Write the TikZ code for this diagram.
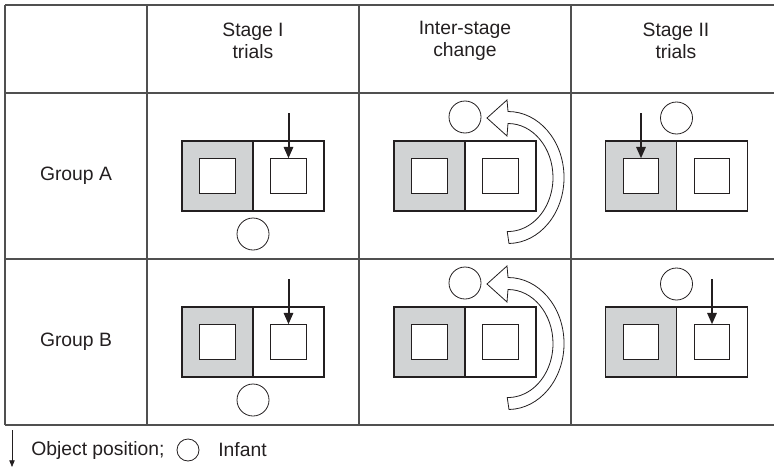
\documentclass[tikz,border=0pt]{standalone}
\usepackage{fontspec}
\setmainfont{Liberation Sans}
\usetikzlibrary{arrows.meta}
\definecolor{ink}{HTML}{231F20}
\definecolor{rulegray}{HTML}{505050}
\definecolor{shade}{HTML}{D1D3D4}
\tikzset{
  gridline/.style={draw=rulegray, line width=1.1pt},
  half/.style={draw=ink, line width=0.8pt, minimum width=53.25pt, minimum height=52.5pt, inner sep=0pt, outer sep=0pt},
  window/.style={draw=ink, fill=white, line width=0.8pt, minimum size=26.6pt, inner sep=0pt, outer sep=0pt},
  infant/.style={circle, draw=ink, line width=0.6pt, minimum size=24pt, inner sep=0pt},
  objarrow/.style={draw=ink, line width=1.5pt, -{Triangle[length=8.5pt,width=7pt]}},
  keyarrow/.style={draw=ink, line width=0.6pt, -{Triangle[length=5pt,width=4pt]}},
  hollow/.style={draw=ink, fill=white, line width=0.6pt, line join=miter},
  txt/.style={font=\fontsize{14.5}{17}\selectfont, text=ink, align=center, inner sep=0pt},
  pics/apparatus/.style={code={
    \node[half, fill=shade] (-L) at (-35.5,0) {};
    \node[half] (-R) at (35.5,0) {};
    \node[window] (-l) at (-35.5,0) {};
    \node[window] (-r) at (35.5,0) {};
  }},
  pics/turn/.style={code={
    % hollow curved arrow swinging the display round
    \path[hollow] (44,67.5) arc[start angle=89, end angle=-90, x radius=56, y radius=66]
      -- (42,-76) -- (22,-58) -- (42,-40) -- (43,-52.5)
      arc[start angle=-90, end angle=91, x radius=45, y radius=54] -- cycle;
  }}
}
\begin{document}
\begin{tikzpicture}[x=0.75pt, y=-0.75pt]
\useasboundingbox (0,0) rectangle (774,471);

% table rules
\foreach \yy in {5,93,259,425} \draw[gridline] (5,\yy) -- (774,\yy);
\foreach \xx in {5,147,359,571} \draw[gridline] (\xx,5) -- (\xx,425);

% headers
\node[txt] (h1) at (253,41) {Stage I\\trials};
\node[txt] (h2) at (465,41) {Inter-stage\\change};
\node[txt] (h3) at (676,41) {Stage II\\trials};
\node[txt] (ga) at (76,176) {Group A};
\node[txt] (gb) at (76,342) {Group B};

% Group A
\pic (a1) at (253,176) {apparatus};
\path (a1-r.north) ++(0,-45) coordinate (a1s);
\draw[objarrow] (a1s) -- (a1-r.north);
\node[infant] (a1i) at (253,234) {};

\pic (a2) at (465,176) {apparatus};
\pic at (465,176) {turn};
\node[infant] (a2i) at (465,117) {};

\pic (a3) at (676.5,176) {apparatus};
\path (a3-l.north) ++(0,-45) coordinate (a3s);
\draw[objarrow] (a3s) -- (a3-l.north);
\node[infant] (a3i) at (676.5,118) {};

% Group B
\pic (b1) at (253,342) {apparatus};
\path (b1-r.north) ++(0,-45) coordinate (b1s);
\draw[objarrow] (b1s) -- (b1-r.north);
\node[infant] (b1i) at (253,400) {};

\pic (b2) at (465,342) {apparatus};
\pic at (465,342) {turn};
\node[infant] (b2i) at (465,283) {};

\pic (b3) at (676.5,342) {apparatus};
\path (b3-r.north) ++(0,-45) coordinate (b3s);
\draw[objarrow] (b3s) -- (b3-r.north);
\node[infant] (b3i) at (676.5,284) {};

% key
\coordinate (ks) at (12,430);
\coordinate (ke) at (12,467);
\draw[keyarrow] (ks) -- (ke);
\node[txt, anchor=west] (k1) at (31,450) {Object position;};
\node[circle, draw=ink, line width=0.6pt, minimum size=16.5pt, inner sep=0pt] (k2) at (188,450) {};
\node[txt, anchor=west] (k3) at (218,450) {Infant};
\end{tikzpicture}
\end{document}
